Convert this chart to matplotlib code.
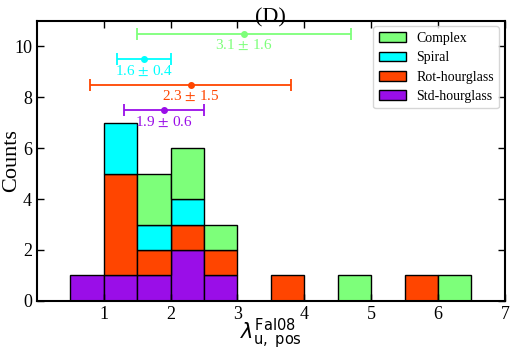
import numpy as np
import matplotlib
matplotlib.use('Agg')
import matplotlib.pyplot as plt
from matplotlib.patches import Patch

plt.rcParams['font.family'] = ['Liberation Serif', 'DejaVu Serif']
plt.rcParams['mathtext.fontset'] = 'dejavusans'

# histogram bins (width 0.5) and stacked counts per class
bin_left = [0.5, 1.0, 1.5, 2.0, 2.5, 3.0, 3.5, 4.0, 4.5, 5.0, 5.5, 6.0]
std_hourglass = [1, 1, 1, 2, 1, 0, 0, 0, 0, 0, 0, 0]
rot_hourglass = [0, 4, 1, 1, 1, 0, 1, 0, 0, 0, 1, 0]
spiral = [0, 2, 1, 1, 0, 0, 0, 0, 0, 0, 0, 0]
complex_ = [0, 0, 2, 2, 1, 0, 0, 0, 1, 0, 0, 1]

labels = ['Complex', 'Spiral', 'Rot-hourglass', 'Std-hourglass']
colors = ['#7dff7a', '#00ffff', '#ff4500', '#9a0ee8']
means = [3.1, 1.6, 2.3, 1.9]
stds = [1.6, 0.4, 1.5, 0.6]
err_y = [10.5, 9.5, 8.5, 7.5]

fig = plt.figure(figsize=(5.12, 3.49), dpi=100)
ax = fig.add_axes([0.072, 0.138, 0.914, 0.802])

series = [std_hourglass, rot_hourglass, spiral, complex_]
ser_colors = [colors[3], colors[2], colors[1], colors[0]]
bottom = np.zeros(len(bin_left))
for vals, c in zip(series, ser_colors):
    vals = np.array(vals)
    m = vals > 0
    ax.bar(np.array(bin_left)[m], vals[m], width=0.5, bottom=bottom[m], align='edge',
           color=c, edgecolor='black', linewidth=1.0)
    bottom = bottom + vals

for mu, sd, y, c in zip(means, stds, err_y, colors):
    ax.errorbar(mu, y, xerr=sd, fmt='o', color=c, ms=4, capsize=4, elinewidth=1.3, capthick=1.3)
    ax.text(mu, y - 0.17, '%.1f $\\pm$ %.1f' % (mu, sd), color=c, ha='center', va='top', fontsize=11,
            math_fontfamily='stix')

ax.set_xlim(0, 7)
ax.set_ylim(0, 11)
ax.set_yticks([0, 2, 4, 6, 8, 10])
ax.set_xticks([1, 2, 3, 4, 5, 6, 7])
ax.tick_params(direction='in', top=True, right=True, labelsize=13, length=5, width=1)
for s in ax.spines.values():
    s.set_linewidth(1.5)
ax.set_ylabel('Counts', fontsize=16)
ax.yaxis.set_label_coords(-0.034, 0.5)
ax.set_xlabel(r'$\lambda^{\rm Fal08}_{\rm u,\ pos}$', fontsize=15)
ax.xaxis.set_label_coords(0.5, -0.117)
ax.xaxis.label.set_va('center')
ax.set_title('(D)', fontsize=16, pad=-1)

handles = [Patch(facecolor=c, edgecolor='black', label=l) for c, l in zip(colors, labels)]
ax.legend(handles=handles, loc='upper right', fontsize=10, frameon=True, handlelength=2.0,
          handleheight=0.7, handletextpad=0.7, labelspacing=0.45, borderaxespad=0.4)

fig.savefig('out.png', dpi=100)
